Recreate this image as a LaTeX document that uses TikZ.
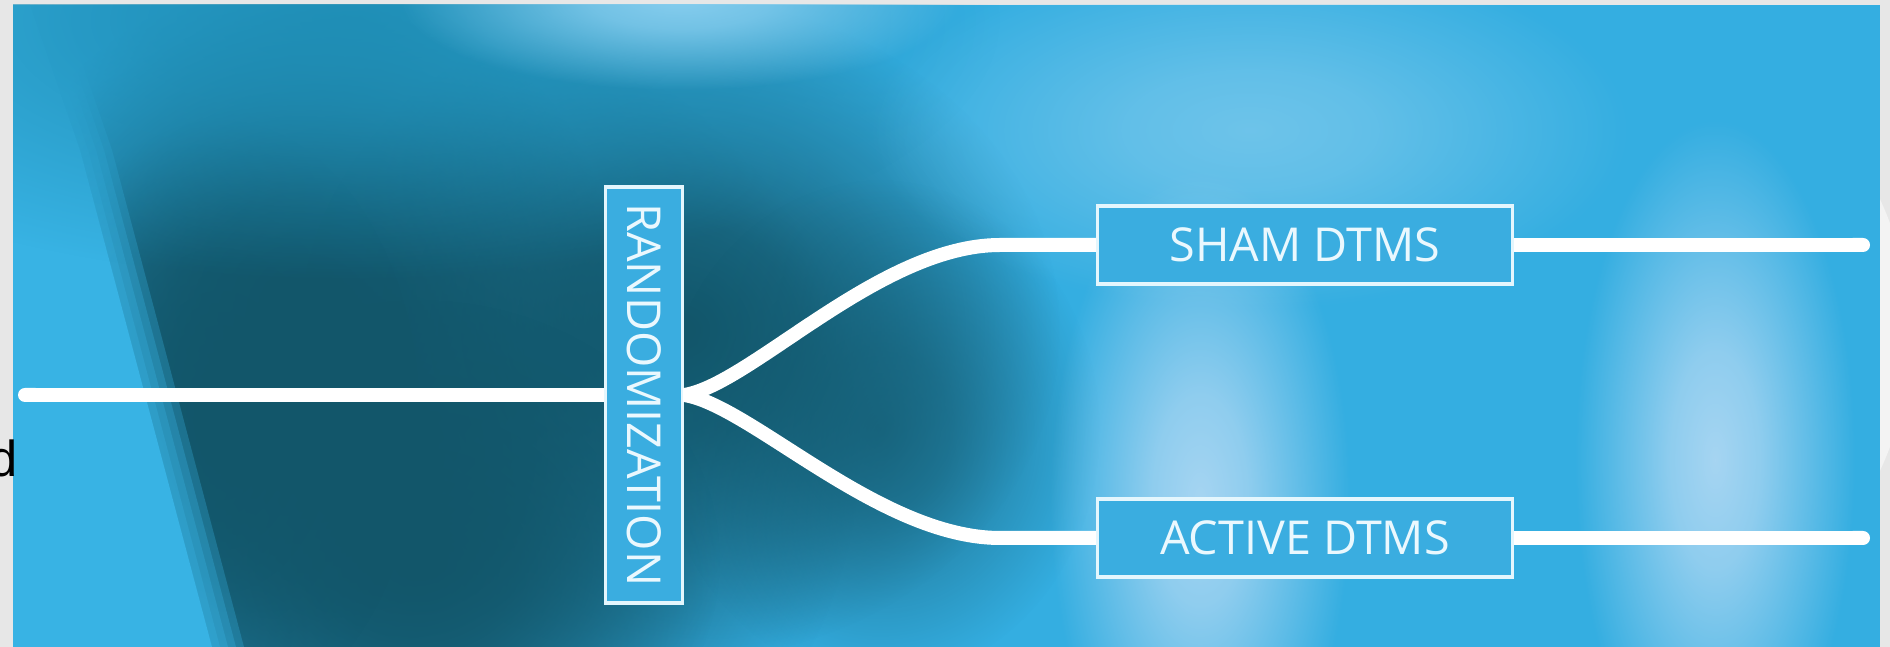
\documentclass[tikz,border=0pt]{standalone}
\usepackage{fontspec}
\setmainfont{Open Sans}
\newfontfamily\cutfont{Liberation Sans}
\usetikzlibrary{fadings,arrows.meta}
\definecolor{pagegray}{HTML}{E7E7E7}
\definecolor{bgblue}{HTML}{34AEE1}
\definecolor{deepteal}{HTML}{12566A}
\definecolor{topteal}{HTML}{1E8DB4}
\definecolor{stripeblue}{HTML}{38B3E4}
\definecolor{glowlight}{HTML}{86CDEE}
\definecolor{columnlight}{HTML}{A6D5F2}
\definecolor{boxblue}{HTML}{3AADE0}
\definecolor{boxline}{HTML}{E4F6FD}
\definecolor{boxtext}{HTML}{EAF8FE}
\pgfdeclareradialshading{blobshade}{\pgfpointorigin}{color(0bp)=(white); color(8bp)=(white!80!black); color(25bp)=(black); color(50bp)=(black)}
\pgfdeclarefading{blobfade}{\pgfuseshading{blobshade}}
\begin{document}
\begin{tikzpicture}[x=0.1mm,y=-0.1mm]
        \tikzset{
          blob/.style={path fading=blobfade},
          wire/.style={draw=white, line width=1.4mm},
          armbox/.style={draw=boxline, line width=0.35mm, fill=boxblue, text=boxtext, inner sep=0pt,
            minimum width=41.5mm, minimum height=7.8mm, font=\fontsize{13.3}{15}\selectfont},
        }
        \useasboundingbox (0,0) rectangle (1890,647);
        % page and photo
        \fill[pagegray] (0,0) rectangle (1890,647);
        \fill[white, opacity=0.5] (1570,335) ellipse [x radius=340, y radius=330];
        \begin{scope}
          \clip (13,5) rectangle (1880,647);
          \fill[bgblue] (13,5) rectangle (1880,647);
          % dark mass
          \fill[deepteal, blob] (380,450) ellipse [x radius=480, y radius=450];
          \fill[deepteal, blob] (300,300) ellipse [x radius=320, y radius=320];
          \fill[deepteal, blob] (680,330) ellipse [x radius=380, y radius=330];
          \fill[deepteal, blob] (420,560) ellipse [x radius=300, y radius=260];
          \fill[deepteal, blob] (220,420) ellipse [x radius=200, y radius=300];
          \fill[deepteal, blob, opacity=0.7] (880,430) ellipse [x radius=220, y radius=250];
          % light stripe on the left
          \fill[stripeblue] (13,5) -- (30,5) -- (80,150) -- (212,647) -- (13,647) -- cycle;
          \foreach \d in {8,16,24,32}
            \fill[stripeblue, opacity=0.3] (13,5) -- (30+\d,5) -- (80+\d,150) -- (212+\d,647) -- (13,647) -- cycle;
          % top
          \fill[topteal, blob, opacity=0.9] (350,20) ellipse [x radius=650, y radius=260];
          \fill[glowlight, blob] (680,0) ellipse [x radius=280, y radius=90];
          \fill[glowlight, blob, opacity=0.7] (1250,130) ellipse [x radius=380, y radius=180];
          % light columns
          \fill[columnlight, blob] (1200,500) ellipse [x radius=150, y radius=330];
          \fill[columnlight, blob] (1715,460) ellipse [x radius=140, y radius=340];
        \end{scope}
        % cut letter
        \node[anchor=base east, inner sep=0pt, text=black, font=\cutfont\fontsize{14.4}{16}\selectfont] (cut) at (18,477) {d};
        % boxes
        \node[armbox, rotate=-90, minimum width=41.6mm, minimum height=7.7mm] (rand) at (644,395) {RANDOMIZATION};
        \node[armbox] (sham) at (1305,245) {SHAM DTMS};
        \node[armbox] (active) at (1305,538) {ACTIVE DTMS};
        \coordinate (inlet) at (18,395);
        \coordinate (upbend) at (1000,245);
        \coordinate (lowbend) at (1000,538);
        \coordinate (shamend) at (1870,245);
        \coordinate (activeend) at (1870,538);
        % wires
        \draw[wire, {Round Cap[]}-] (inlet) -- (rand.south);
        \draw[wire, line join=bevel] (sham.west) -- (upbend) .. controls (880,245) and (750,385) .. (rand.north)
          .. controls (750,405) and (880,538) .. (lowbend) -- (active.west);
        \draw[wire, -{Round Cap[]}] (sham.east) -- (shamend);
        \draw[wire, -{Round Cap[]}] (active.east) -- (activeend);
    \end{tikzpicture}
\end{document}
